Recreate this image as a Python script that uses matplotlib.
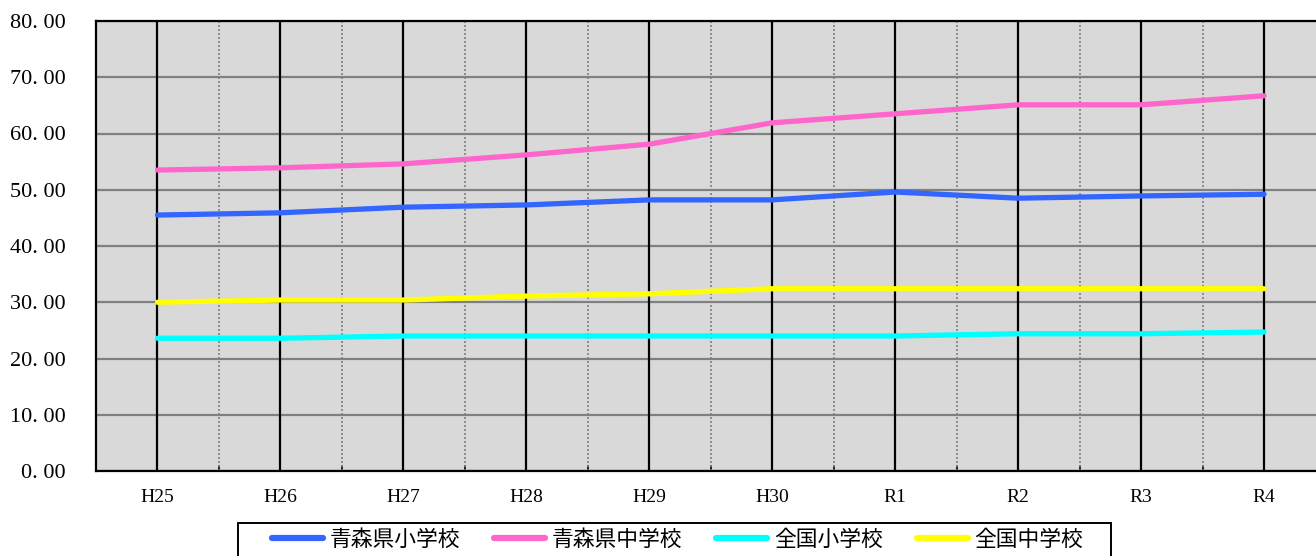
import matplotlib
matplotlib.use("Agg")
import matplotlib.pyplot as plt
from matplotlib.patches import Rectangle

years = ["H25", "H26", "H27", "H28", "H29", "H30", "R1", "R2", "R3", "R4"]
aomori_sho = [45.5, 45.9, 46.9, 47.3, 48.2, 48.2, 49.6, 48.5, 48.9, 49.2]
aomori_chu = [53.5, 53.9, 54.6, 56.2, 58.1, 61.9, 63.5, 65.1, 65.1, 66.7]
zenkoku_sho = [23.6, 23.6, 24.0, 24.0, 24.0, 24.0, 24.0, 24.4, 24.4, 24.7]
zenkoku_chu = [30.0, 30.4, 30.4, 31.1, 31.5, 32.4, 32.4, 32.4, 32.4, 32.4]
y_ticks = [0, 10, 20, 30, 40, 50, 60, 70, 80]

labels = ["青森県小学校", "青森県中学校", "全国小学校", "全国中学校"]
colors = ["#3366ff", "#ff66cc", "#00ffff", "#ffff00"]

plt.rcParams['font.family'] = ['Noto Sans CJK JP', 'DejaVu Sans']

W, H = 1316, 556
fig = plt.figure(figsize=(W / 100, H / 100), dpi=100)
# plot area runs past the right edge of the picture, as in the original
ax = fig.add_axes([96 / W, 1 - 471 / H, 1229.5 / W, 450 / H])
ax.set_facecolor("#d9d9d9")

x = list(range(len(years)))
for vals, lab, c in zip([aomori_sho, aomori_chu, zenkoku_sho, zenkoku_chu], labels, colors):
    ax.plot(x, vals, color=c, lw=3.8, label=lab, solid_capstyle="round", zorder=3)

ax.set_xlim(-0.5, len(years) - 0.5)
ax.set_ylim(0, 80)
ax.set_yticks(y_ticks)
ax.set_yticklabels([f"{v:.2f}".replace(".", ". ") for v in y_ticks],
                   family="Liberation Serif", fontsize=16)
ax.set_xticks(x)
ax.set_xticklabels(years, family="Liberation Serif", fontsize=14)
ax.set_xticks([i + 0.5 for i in x[:-1]], minor=True)

ax.grid(axis="y", color="#808080", lw=1.6)
for i in x:
    ax.axvline(i, color="black", lw=1.6, zorder=2)
for i in x[:-1]:
    ax.axvline(i + 0.5, color="#808080", lw=1.2, ls=(0, (1.2, 1.2)), zorder=2)
ax.set_axisbelow(True)

ax.tick_params(axis="y", which="major", length=0, pad=22)
ax.tick_params(axis="x", which="major", length=0, pad=13)
ax.tick_params(axis="x", which="minor", direction="in", length=4, width=1.2, color="black")
for s in ax.spines.values():
    s.set_linewidth(1.6)
    s.set_color("black")

# legend frame (cut off at the bottom like the original)
fig.patches.append(Rectangle((238 / W, -0.05), (1111 - 238) / W, 0.05 + 1 - 523 / H,
                             transform=fig.transFigure, fill=False, ec="black", lw=1.4))
leg = fig.legend(loc="upper left", bbox_to_anchor=(272 / W, 1 - 529 / H),
                 bbox_transform=fig.transFigure, ncol=4, frameon=False, fontsize=15.7,
                 handlelength=2.35, handletextpad=0.3, columnspacing=1.55,
                 borderpad=0, borderaxespad=0)
for h in leg.get_lines():
    h.set_linewidth(4.5)

fig.savefig("out.png", dpi=100)
